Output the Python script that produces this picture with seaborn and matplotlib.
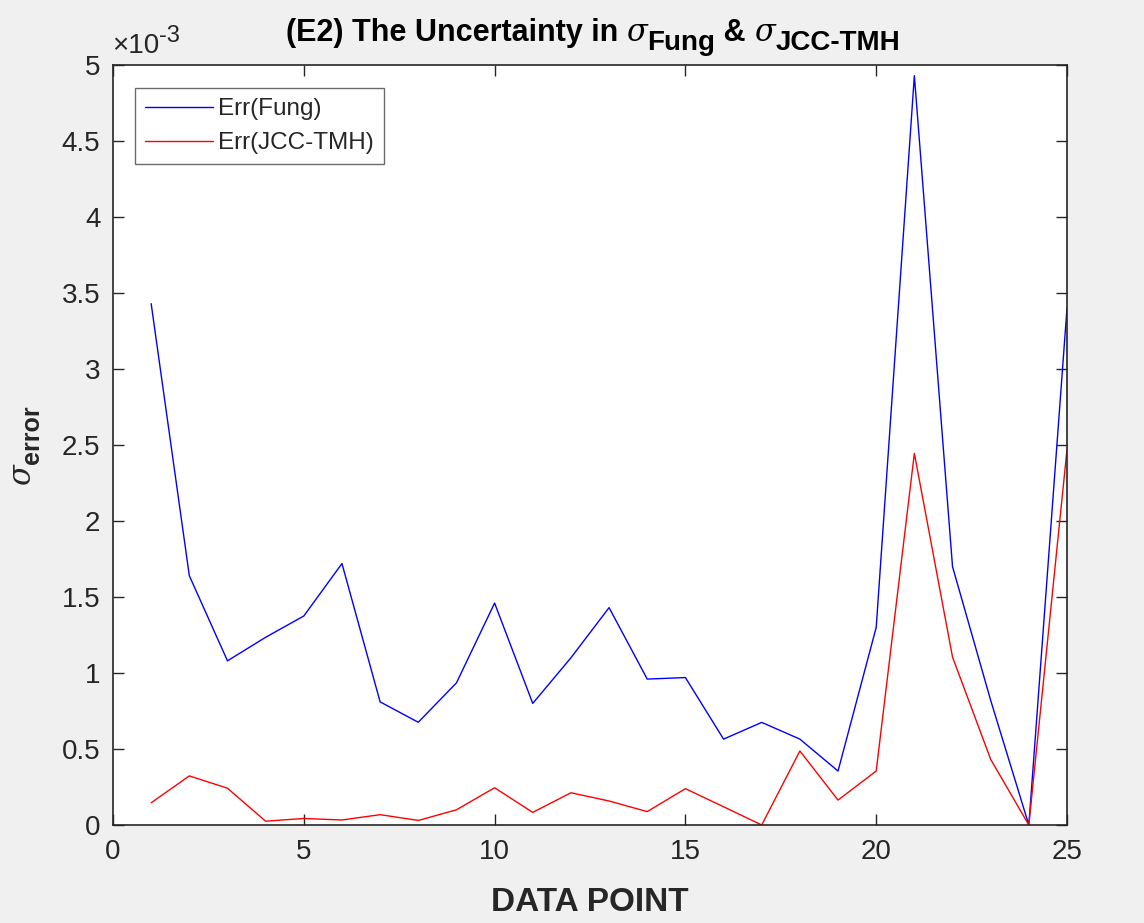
import matplotlib
matplotlib.use("Agg")
import matplotlib.pyplot as plt
from matplotlib.ticker import FuncFormatter, MultipleLocator
import pandas as pd
import seaborn as sns

# Data points along the x axis
data_point = list(range(1, 26))

# Uncertainty of the Fung estimate at each data point
err_fung = [3.43e-3, 1.64e-3, 1.08e-3, 1.235e-3, 1.375e-3, 1.72e-3, 0.81e-3,
            0.676e-3, 0.935e-3, 1.46e-3, 0.80e-3, 1.10e-3, 1.43e-3, 0.96e-3,
            0.97e-3, 0.565e-3, 0.675e-3, 0.565e-3, 0.355e-3, 1.30e-3, 4.93e-3,
            1.70e-3, 0.82e-3, 0.0, 3.40e-3]

# Uncertainty of the JCC-TMH estimate at each data point
err_jcc = [0.146e-3, 0.323e-3, 0.242e-3, 0.025e-3, 0.043e-3, 0.033e-3,
           0.068e-3, 0.030e-3, 0.10e-3, 0.245e-3, 0.083e-3, 0.212e-3,
           0.158e-3, 0.088e-3, 0.239e-3, 0.12e-3, 0.0, 0.487e-3, 0.164e-3,
           0.355e-3, 2.445e-3, 1.105e-3, 0.432e-3, 0.0, 2.47e-3]

series_names = ["Err(Fung)", "Err(JCC-TMH)"]
series_colors = ["#0000ff", "#ff0000"]

df = pd.DataFrame({
    "point": data_point * 2,
    "err": err_fung + err_jcc,
    "series": [series_names[0]] * len(data_point) + [series_names[1]] * len(data_point),
})

sns.set_theme(style="ticks")
plt.rcParams["font.family"] = ["Liberation Sans", "DejaVu Sans"]

axis_gray = "#262626"
W, H = 1144, 923

fig = plt.figure(figsize=(W / 100, H / 100), dpi=100, facecolor="#f0f0f0")
ax = fig.add_axes([113 / W, 1 - 825 / H, 954 / W, 760 / H])
ax.set_facecolor("white")

sns.lineplot(data=df, x="point", y="err", hue="series",
             palette=dict(zip(series_names, series_colors)),
             linewidth=1.0, ax=ax, legend=False)

ax.set_xlim(0, 25)
ax.set_ylim(0, 5e-3)
ax.xaxis.set_major_locator(MultipleLocator(5))
ax.yaxis.set_major_locator(MultipleLocator(0.5e-3))
ax.yaxis.set_major_formatter(FuncFormatter(lambda v, p: f"{v * 1e3:g}"))
ax.set_xlabel("")
ax.set_ylabel("")

for side in ["top", "right", "bottom", "left"]:
    ax.spines[side].set_visible(True)
    ax.spines[side].set_color(axis_gray)
    ax.spines[side].set_linewidth(1.2)

ax.tick_params(axis="both", which="major", direction="in", length=8,
               width=1.0, color=axis_gray, labelcolor=axis_gray,
               labelsize=20, top=True, right=True)
ax.tick_params(axis="x", pad=10)
ax.tick_params(axis="y", pad=9)

ax.set_xlabel("DATA POINT", fontsize=24, fontweight="bold", color=axis_gray,
              labelpad=16)

handles = [plt.Line2D([], [], color=c, linewidth=1.0) for c in series_colors]
leg = ax.legend(handles, series_names, loc="upper left",
                bbox_to_anchor=(0.023, 0.97), borderaxespad=0,
                fontsize=17.5, handlelength=2.8, handletextpad=0.2,
                labelspacing=0.5, borderpad=0.42, frameon=True,
                fancybox=False, framealpha=1.0)
leg.get_frame().set_edgecolor("#6b6b6b")
leg.get_frame().set_linewidth(1.0)
for t in leg.get_texts():
    t.set_color(axis_gray)

fig.canvas.draw()
renderer = fig.canvas.get_renderer()


def rich_text(pieces, x, y, anchor="center", vertical=False):
    """Write text pieces one after another along a shared baseline.

    pieces: (string, text kwargs, baseline shift in px) tuples.
    x, y: pixel position of the start (anchor='left') or middle of the run.
    """
    rot = 90 if vertical else 0
    made = []
    for s, kw, shift in pieces:
        t = fig.text(0, 0, s, rotation=rot, rotation_mode="anchor",
                     ha="left", va="baseline", **kw)
        made.append((t, shift))
    lengths = []
    for t, _ in made:
        bb = t.get_window_extent(renderer)
        lengths.append(bb.height if vertical else bb.width)
    total = sum(lengths)
    pos = -total / 2 if anchor == "center" else 0.0
    for (t, shift), n in zip(made, lengths):
        if vertical:
            px, py = x + shift, y + pos
        else:
            px, py = x + pos, y - shift
        t.set_position((px / W, py / H))
        pos += n
    return made


title_main = dict(fontsize=22, fontweight="bold", color="black")
title_sym = dict(fontsize=22, fontstyle="italic", family="DejaVu Serif",
                 color="black")
title_sub = dict(fontsize=20, fontweight="bold", color="black")
rich_text([("(E2) The Uncertainty in ", title_main, 0),
           ("\u03c3", title_sym, 0),
           ("Fung", title_sub, 9),
           (" & ", title_main, 0),
           ("\u03c3", title_sym, 0),
           ("JCC-TMH", title_sub, 9)],
          x=(113 + 1067) / 2 + 3, y=H - 41)

label_sym = dict(fontsize=22, fontstyle="italic", family="DejaVu Serif",
                 color=axis_gray)
label_sub = dict(fontsize=18, fontweight="bold", color=axis_gray)
rich_text([("\u03c3", label_sym, 0), ("error", label_sub, 9)],
          x=30, y=H - 445, vertical=True)

exp_main = dict(fontsize=20, color=axis_gray)
exp_sup = dict(fontsize=17, color=axis_gray)
rich_text([("\u00d710", exp_main, 0), ("-3", exp_sup, -11)],
          x=112, y=H - 53, anchor="left")

fig.savefig("out.png", dpi=100, facecolor=fig.get_facecolor())
